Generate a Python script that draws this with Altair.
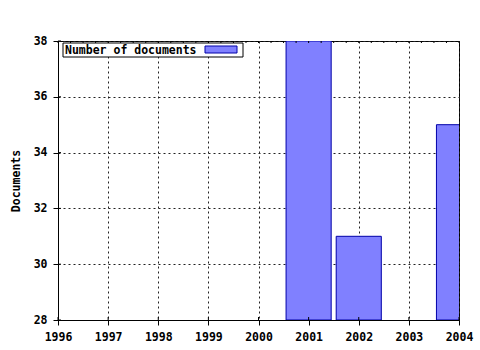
import altair as alt
import pandas as pd

# ---- data ----
years = [2001, 2002, 2004]
documents = [38, 31, 35]
x_ticks = [1996, 1997, 1998, 1999, 2000, 2001, 2002, 2003, 2004]
y_ticks = [28, 30, 32, 34, 36, 38]
minor_x = [1996 + i * 0.25 for i in range(33)]
legend_label = "Number of documents"
y_title = "Documents"

FONT = "DejaVu Sans Mono"
FS = 11.5
W, H = 401, 279

bars_df = pd.DataFrame({"year": years, "docs": documents})

xscale = alt.Scale(domain=[x_ticks[0], x_ticks[-1]], nice=False, zero=False)
yscale = alt.Scale(domain=[y_ticks[0], y_ticks[-1]], nice=False, zero=False)

is_major = "datum.value % 1 === 0"

x_axis = alt.Axis(
    values=minor_x,
    labelExpr="datum.value % 1 === 0 ? format(datum.value, 'd') : ''",
    labelOverlap=False,
    labelFlush=False,
    tickSize={"condition": {"test": is_major, "value": 5}, "value": 3},
    gridOpacity={"condition": {"test": is_major, "value": 1}, "value": 0},
    grid=True,
    gridColor="#222222",
    gridDash=[2, 3],
    gridWidth=1,
    labelPadding=6,
)

y_axis = alt.Axis(
    values=y_ticks,
    format="d",
    tickSize=5,
    labelPadding=6,
    grid=True,
    gridColor="#222222",
    gridDash=[2, 3],
    gridWidth=1,
    titlePadding=12,
)

bars = (
    alt.Chart(bars_df)
    .transform_calculate(x0="datum.year - 0.45", x1="datum.year + 0.45")
    .mark_bar(clip=True, fill="#8080ff", stroke="#0000a8", strokeWidth=1)
    .encode(
        x=alt.X("x0:Q", scale=xscale, axis=x_axis, title=None),
        x2="x1:Q",
        y=alt.Y("docs:Q", scale=yscale, axis=y_axis, title=y_title),
        y2=alt.datum(y_ticks[0]),
    )
)

xt_df = pd.DataFrame({"t": x_ticks})
yt_df = pd.DataFrame({"t": y_ticks})
mx_df = pd.DataFrame({"t": minor_x})

inner_x = alt.Chart(xt_df).mark_rule(color="black").encode(
    x=alt.X("t:Q", scale=xscale, title=None), y=alt.value(H - 3), y2=alt.value(H)
)
inner_y = alt.Chart(yt_df).mark_rule(color="black").encode(
    y=alt.Y("t:Q", scale=yscale, title=y_title), x=alt.value(0), x2=alt.value(3)
)
top_minor = alt.Chart(mx_df).mark_rule(color="black").encode(
    x=alt.X("t:Q", scale=xscale, title=None), y=alt.value(0), y2=alt.value(2)
)

one = alt.Data(values=[{}])
legend_box = alt.Chart(one).mark_rect(fill="white", stroke="black", strokeWidth=1).encode(
    x=alt.value(5), x2=alt.value(185), y=alt.value(2), y2=alt.value(16)
)
legend_swatch = alt.Chart(one).mark_rect(fill="#8080ff", stroke="#0000a8", strokeWidth=1).encode(
    x=alt.value(147), x2=alt.value(179), y=alt.value(5), y2=alt.value(12)
)
legend_text = alt.Chart(one).mark_text(
    align="left", baseline="middle", font=FONT, fontSize=FS, fontWeight="bold", color="black"
).encode(x=alt.value(7), y=alt.value(9.5), text=alt.value(legend_label))

chart = (
    alt.layer(bars, inner_x, inner_y, top_minor, legend_box, legend_swatch, legend_text)
    .properties(
        width=W,
        height=H,
        autosize=alt.AutoSizeParams(type="none"),
        padding={"left": 58, "top": 41, "right": 21, "bottom": 30},
        background="white",
    )
    .configure_view(stroke="black", strokeWidth=1)
    .configure_axis(
        domainColor="black",
        tickColor="black",
        labelColor="black",
        titleColor="black",
        labelFont=FONT,
        titleFont=FONT,
        labelFontSize=FS,
        titleFontSize=FS,
        labelFontWeight="bold",
        titleFontWeight="bold",
    )
)

chart.save("out.html", embed_options={"renderer": "svg", "actions": False})
